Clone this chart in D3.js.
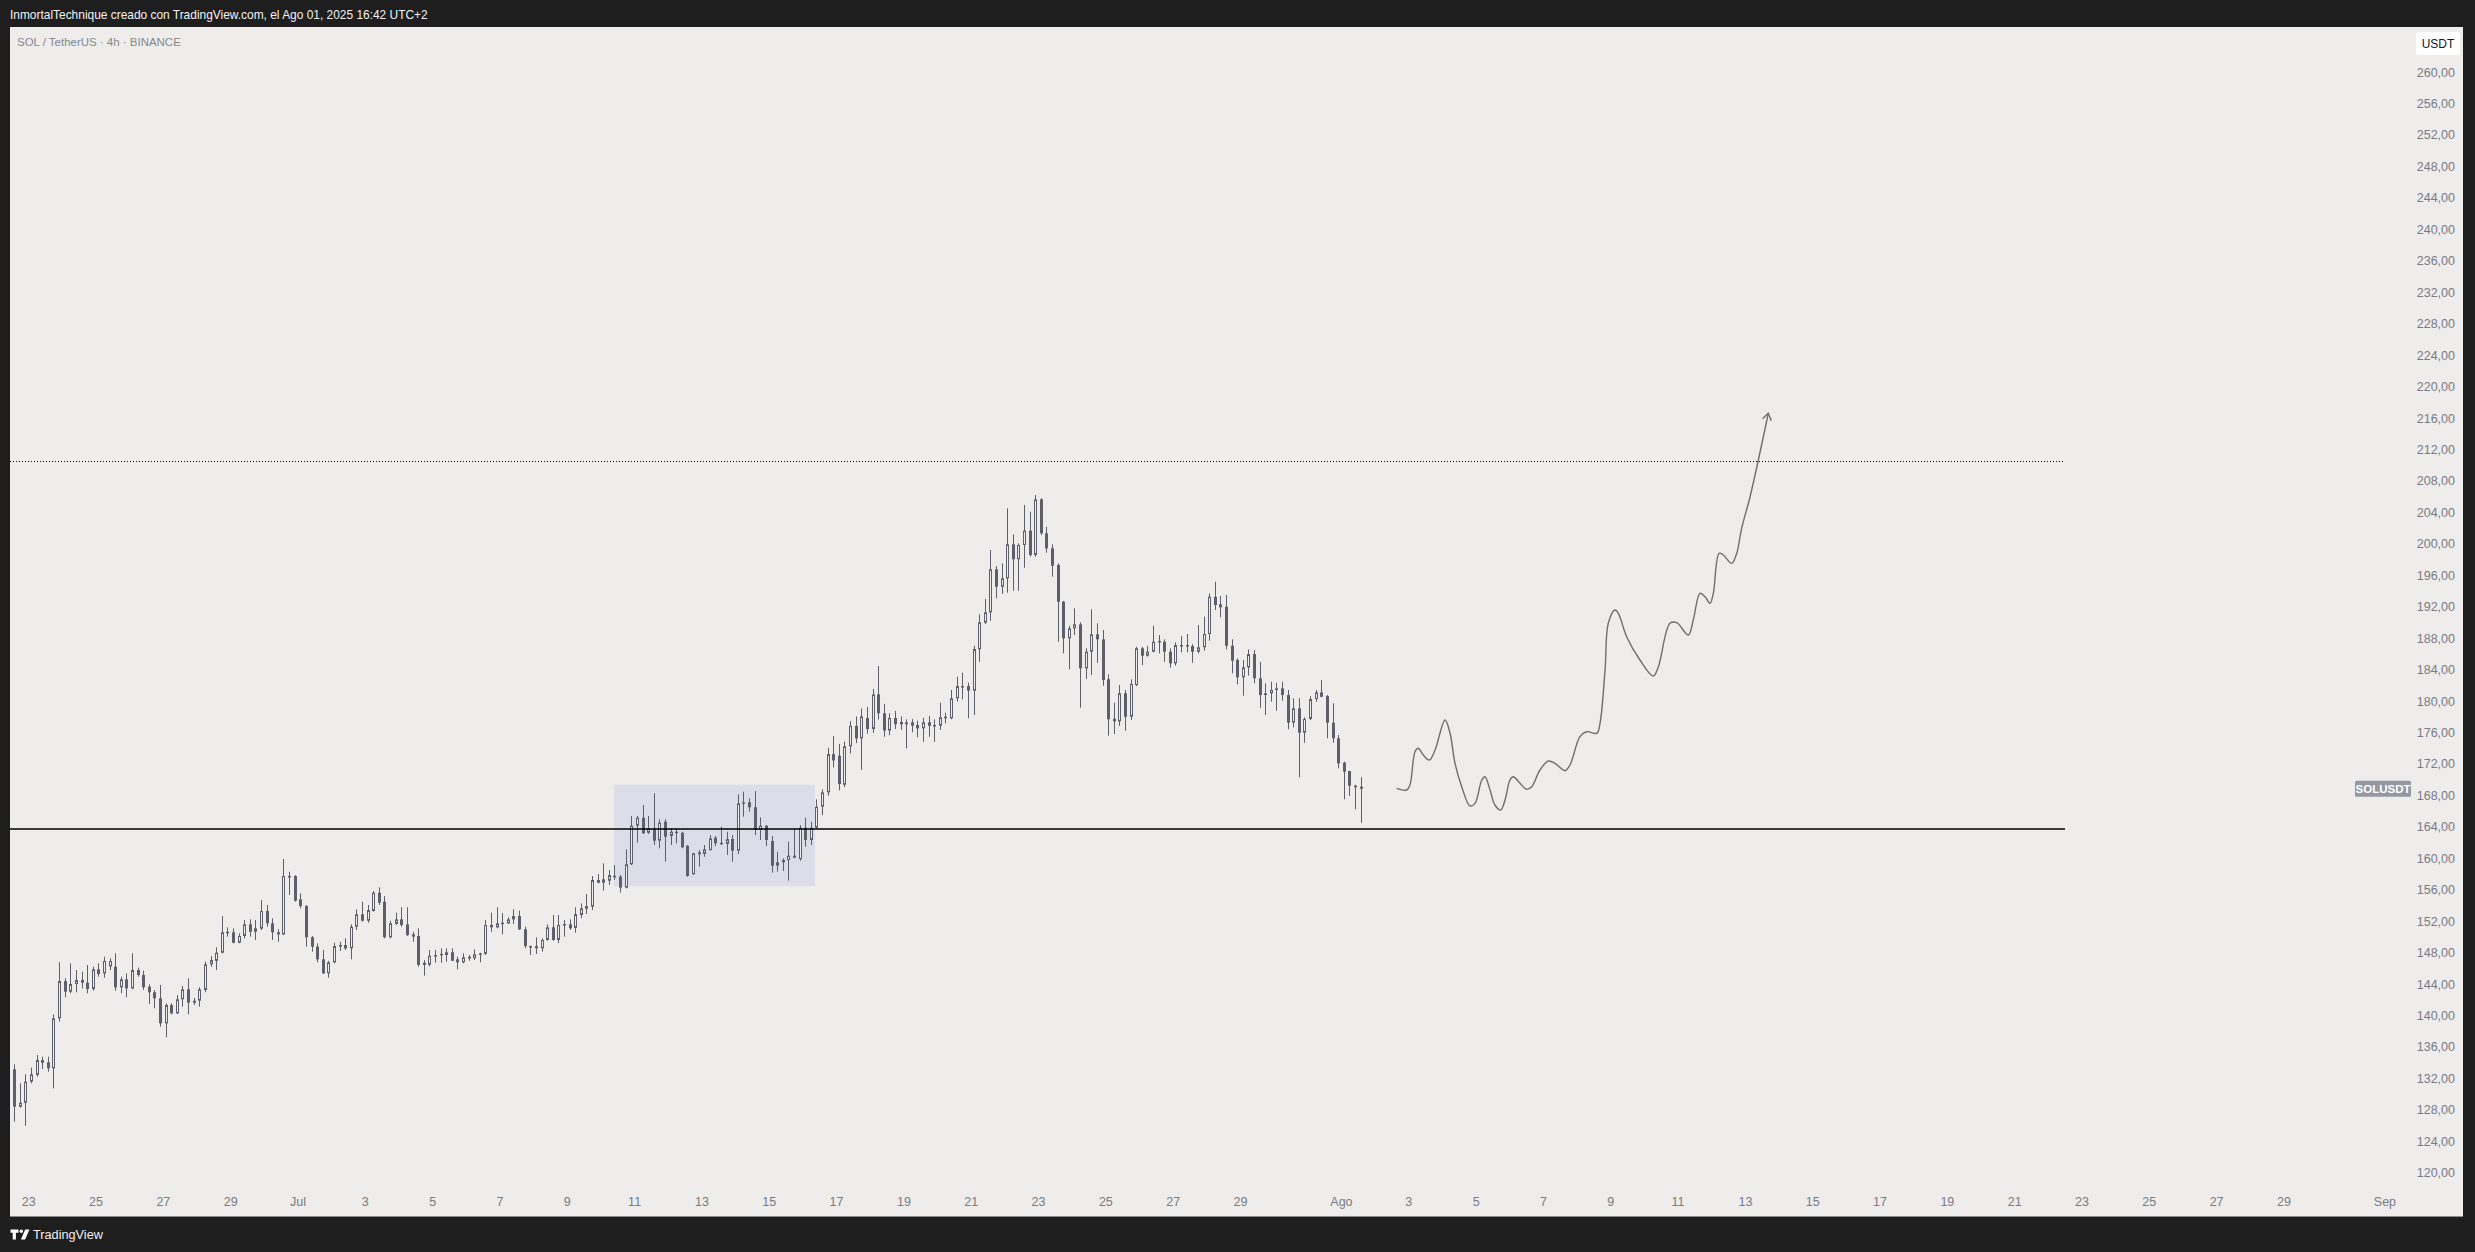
<!DOCTYPE html>
<html><head><meta charset="utf-8">
<script src="https://cdn.jsdelivr.net/npm/d3@7"></script>
<style>body{margin:0;background:#1e1e1e;overflow:hidden}svg{display:block}</style>
</head><body>
<svg id="c" width="2475" height="1252"></svg>
<script>
// ---------------- DATA ----------------
const headerText = "InmortalTechnique creado con TradingView.com, el Ago 01, 2025 16:42 UTC+2";
const titleText = "SOL / TetherUS · 4h · BINANCE";
const symbolLabel = "SOLUSDT";
const currencyLabel = "USDT";
const firstCandle = "2025-06-22T14:00:00Z";   // 4h candles, UTC+2 shown as local
const candleHours = 4;
// [open, high, low, close]
const candles = [
[133.11,133.75,126.45,128.35],[128.35,131.33,128.23,128.86],[128.86,132.48,125.94,131.53],[131.53,133.32,131.33,132.48],
[132.40,134.93,132.17,134.29],[134.29,134.71,133.15,133.95],[134.00,134.71,132.81,133.24],[133.24,140.11,130.69,139.60],
[139.60,146.72,139.17,144.34],[144.34,144.69,142.27,142.98],[142.98,146.59,142.78,143.96],[143.96,145.74,142.91,144.47],
[144.47,145.53,143.41,144.13],[144.13,146.38,142.78,143.33],[143.33,146.16,143.11,145.83],[145.83,146.59,144.89,145.23],
[145.32,147.43,144.76,146.89],[146.20,147.23,145.74,146.89],[146.16,147.87,143.11,143.54],[143.54,144.89,142.78,144.56],
[144.56,145.32,142.27,143.41],[143.41,147.87,143.29,145.74],[145.74,146.06,144.89,145.11],[145.11,145.65,143.20,143.54],
[143.62,143.92,141.42,142.91],[142.91,143.20,140.87,142.14],[142.14,143.83,138.53,138.96],[138.96,141.51,137.18,141.29],
[141.29,141.51,140.11,140.23],[140.23,142.56,140.14,142.02],[142.02,143.71,141.07,143.29],[143.29,144.69,140.11,141.58],
[141.58,142.18,141.29,141.84],[141.84,143.54,141.07,143.29],[143.20,146.80,142.91,146.47],[146.47,147.52,146.16,147.01],
[146.90,148.63,145.74,147.94],[147.94,152.61,147.87,150.54],[150.41,151.17,149.98,150.61],[150.54,151.04,149.14,149.21],
[149.21,150.41,149.14,150.07],[150.07,152.10,149.77,151.55],[151.55,152.19,149.98,150.61],[150.61,152.10,149.56,151.05],
[151.00,154.64,150.83,153.25],[153.25,154.01,151.25,151.68],[151.68,152.32,149.56,150.54],[150.54,150.92,149.34,150.28],
[150.28,159.86,150.19,157.70],[157.53,158.24,155.28,157.70],[157.70,157.82,154.43,154.56],[154.73,155.50,153.59,153.88],
[153.88,154.01,148.71,149.90],[149.90,150.07,148.07,148.71],[148.71,149.14,146.72,147.10],[147.10,148.29,145.23,145.32],
[145.32,146.92,144.76,146.72],[146.72,149.21,146.59,148.79],[148.71,149.34,148.16,148.92],[148.92,149.77,148.29,148.50],
[148.50,151.55,147.10,151.25],[151.25,153.46,150.83,152.83],[152.83,154.43,151.89,152.01],[152.01,154.01,151.76,153.37],
[153.25,155.79,153.16,155.57],[155.57,156.26,154.01,154.30],[154.43,155.15,149.77,149.90],[149.90,152.00,149.77,151.68],
[151.60,153.03,151.47,152.19],[152.19,153.72,151.25,151.47],[151.55,153.72,150.07,150.19],[150.28,150.61,149.34,149.98],
[150.07,151.04,146.16,146.38],[146.67,147.01,145.02,146.38],[146.40,148.29,146.20,147.56],[147.45,148.29,146.67,147.65],
[147.65,148.50,146.67,147.80],[147.65,148.50,146.80,148.00],[148.00,148.50,146.88,146.92],[147.10,147.43,145.83,146.72],
[146.72,147.87,146.59,147.36],[147.20,147.65,146.92,147.43],[147.23,148.37,147.01,147.74],[147.74,147.94,146.72,147.87],
[147.80,152.10,147.65,151.47],[151.47,153.03,150.61,151.17],[151.17,153.72,151.05,151.68],[151.60,152.95,150.28,151.76],
[151.68,152.45,151.60,152.19],[152.19,153.46,151.60,152.61],[152.61,153.29,150.83,150.92],[150.92,151.25,148.50,148.79],
[148.79,148.85,147.65,148.71],[148.50,149.90,147.78,148.79],[148.50,149.77,148.07,149.56],[149.56,151.55,149.47,151.17],
[151.17,152.74,149.47,149.56],[149.56,152.74,149.18,151.47],[151.47,152.10,149.98,151.60],[151.55,152.19,150.83,151.05],
[151.10,153.72,150.48,152.86],[152.74,154.22,152.32,153.59],[153.54,155.41,152.86,153.88],[153.80,157.70,153.37,157.19],
[156.85,157.95,156.77,157.19],[156.85,159.31,155.83,157.28],[157.10,158.46,156.55,157.82],[157.74,159.10,157.19,157.53],
[157.61,157.82,155.57,156.21],[156.21,161.09,156.13,159.19],[159.19,165.33,159.10,164.10],[164.10,165.33,161.93,165.11],
[165.11,166.73,163.04,163.13],[163.20,165.33,163.04,163.76],[163.76,168.22,161.64,162.19],[162.19,164.91,161.22,164.48],
[164.60,164.91,159.52,162.70],[162.79,163.76,161.64,163.33],[163.13,163.76,161.86,163.33],[163.20,163.33,161.22,161.35],
[161.55,161.64,157.61,157.70],[157.95,160.66,157.82,160.58],[160.46,161.00,158.88,160.71],[160.50,161.64,160.15,161.09],
[161.00,162.91,160.92,162.49],[162.57,162.79,161.51,161.86],[161.93,163.97,161.64,161.77],[161.77,163.33,160.37,162.40],
[162.40,162.91,159.52,160.92],[160.92,168.09,160.50,166.94],[166.94,168.42,165.24,167.07],[167.07,167.58,165.88,166.44],
[166.44,168.51,162.91,163.55],[163.55,165.16,162.28,164.10],[164.10,164.18,161.51,162.28],[162.15,162.79,158.12,159.01],
[159.01,160.79,158.24,159.44],[159.44,159.95,158.33,159.73],[159.73,162.06,157.10,160.28],[160.28,163.64,159.95,160.03],
[159.86,164.18,159.64,163.84],[163.84,165.11,161.42,162.28],[162.28,164.60,161.64,163.84],[163.84,167.45,163.76,166.51],
[166.51,168.72,165.46,168.34],[168.34,174.00,167.90,173.20],[173.20,175.50,171.50,172.40],[173.00,174.50,168.60,169.40],
[169.30,174.80,169.00,174.20],[174.20,177.40,173.30,176.80],[176.80,178.00,174.60,175.20],[175.20,179.00,171.20,178.00],
[177.80,179.20,175.80,176.40],[176.40,181.50,175.90,180.80],[180.80,184.40,177.60,178.40],[178.40,179.60,175.40,176.20],
[176.20,178.40,175.60,177.80],[177.80,178.70,176.40,177.00],[177.00,178.00,176.30,177.30],[177.25,177.63,173.94,176.99],
[177.25,177.67,175.97,176.81],[176.90,177.45,175.34,176.48],[176.48,177.83,174.78,177.25],[177.25,178.05,175.42,176.81],
[176.81,177.63,174.78,176.90],[176.81,179.74,176.27,177.88],[177.88,178.47,177.12,177.96],[177.76,181.36,177.63,180.30],
[180.30,183.05,179.87,181.86],[181.77,183.56,180.17,181.86],[181.86,182.28,177.76,181.27],[181.27,186.99,178.18,186.57],
[186.53,190.98,184.95,189.97],[189.92,192.93,189.75,191.24],[191.24,199.16,190.17,196.71],[196.71,197.13,193.02,194.49],
[194.49,197.47,193.57,195.56],[195.56,204.47,193.73,199.89],[199.89,201.16,193.98,197.98],[197.98,200.01,193.98,199.80],
[199.80,204.89,196.91,201.62],[201.62,204.03,198.31,198.53],[198.53,206.16,198.31,205.61],[205.61,205.74,201.07,201.29],
[201.29,202.12,198.82,199.38],[199.38,199.89,195.77,197.16],[197.25,197.47,187.50,192.59],[192.59,192.68,186.02,187.93],
[187.93,189.53,183.99,189.20],[189.20,191.75,188.35,189.71],[189.71,189.97,179.10,184.11],[184.11,186.66,182.75,186.23],
[186.23,191.62,183.26,188.44],[188.44,189.84,184.83,187.80],[187.80,188.99,181.90,182.63],[182.72,183.35,175.54,177.63],
[177.70,179.74,175.76,177.37],[177.37,181.99,176.78,180.94],[180.94,181.36,176.18,177.96],[177.96,182.72,177.54,182.12],
[181.99,186.86,181.86,186.66],[186.66,186.86,184.53,185.72],[185.72,186.99,185.59,186.23],[186.23,189.53,186.15,187.50],
[187.42,188.35,186.02,187.59],[187.50,187.80,184.95,186.23],[186.23,186.66,184.19,184.75],[184.75,187.42,184.45,187.08],
[186.99,188.22,186.15,187.08],[187.08,188.48,186.15,186.95],[186.95,187.20,184.83,186.23],[186.23,189.62,186.02,186.79],
[186.79,190.68,186.35,188.48],[188.48,193.65,187.63,193.22],[193.22,195.13,191.53,192.17],[192.26,193.31,190.60,191.87],
[191.95,193.44,186.53,186.99],[186.99,187.80,183.48,185.08],[185.17,185.39,182.08,182.97],[182.97,185.17,180.63,184.24],
[184.24,186.53,183.17,185.93],[185.93,186.44,182.21,182.84],[182.84,184.95,179.10,180.72],[180.72,182.21,178.18,180.94],
[180.94,182.41,179.87,181.36],[181.36,182.28,178.72,181.57],[181.57,182.41,179.99,180.72],[180.72,181.36,176.36,177.20],
[177.20,180.30,176.61,179.03],[179.03,180.30,170.25,175.92],[175.92,177.88,174.65,177.67],[177.67,180.59,177.54,180.21],
[180.21,181.36,179.87,181.06],[181.06,182.63,180.43,180.50],[180.59,180.72,175.21,177.20],[177.20,179.66,174.65,175.21],
[175.21,175.63,171.40,172.03],[172.11,172.24,167.45,170.96],[171.05,171.09,167.87,169.18],[169.18,169.30,166.18,169.06],
[169.06,170.25,164.48,168.80]
];
// hand-drawn projection: hours after 2025-08-01 00:00, and price
const projHours = [39.7,46.9,49.2,52.8,55.1,58.7,63.0,67.1,74.2,77.8,81.3,86.1,92.0,95.6,100.4,102.7,106.3,109.8,113.9,117.0,120.5,122.9,127.7,132.4,136.0,141.9,147.8,152.6,159.7,163.3,170.4,175.2,182.4,184.7,188.3,190.6,195.4,197.8,203.7,213.2,222.7,226.3,234.6,239.4,247.7,251.2,256.0,259.6,263.1,265.5,269.6,272.6,278.6,282.2,285.7,291.7,297.6,304.7];
const projPrices = [168.85,168.64,169.27,173.51,173.94,173.09,172.45,173.72,177.54,175.85,172.03,169.06,166.60,166.94,169.91,170.33,168.64,166.73,166.09,167.36,169.91,170.33,169.49,168.72,169.06,171.18,172.32,172.03,171.09,171.82,175.42,176.05,175.85,177.12,183.90,189.84,191.53,191.11,188.13,185.17,183.14,184.32,189.84,189.92,188.35,190.26,193.65,193.22,192.38,193.65,198.74,198.53,197.47,198.74,201.92,205.94,210.61,216.55];
const supportPrice = 163.67;
const targetPrice = 210.5;
const levelsEnd = "2025-08-22T12:15:00Z";
const rangeBox = {start:"2025-07-10T09:40:00Z", end:"2025-07-16T09:00:00Z", top:169.3, bottom:156.4};
const priceTicks = [120,124,128,132,136,140,144,148,152,156,160,164,168,172,176,180,184,188,192,196,200,204,208,212,216,220,224,228,232,236,240,244,248,252,256,260];
const dateTicks = ["2025-06-23","2025-06-25","2025-06-27","2025-06-29","2025-07-01","2025-07-03","2025-07-05","2025-07-07","2025-07-09","2025-07-11","2025-07-13","2025-07-15","2025-07-17","2025-07-19","2025-07-21","2025-07-23","2025-07-25","2025-07-27","2025-07-29","2025-08-01","2025-08-03","2025-08-05","2025-08-07","2025-08-09","2025-08-11","2025-08-13","2025-08-15","2025-08-17","2025-08-19","2025-08-21","2025-08-23","2025-08-25","2025-08-27","2025-08-29","2025-09-01"];
const monthNames = ["Ene","Feb","Mar","Abr","May","Jun","Jul","Ago","Sep","Oct","Nov","Dic"];

// ---------------- LAYOUT ----------------
const W = 2475, H = 1252;
const panel = {x0:10, y0:27, x1:2463, y1:1216};
const plotRight = 2413;
const BG = "#eeedeb", CANDLE = "#5d606b", AXIS_TXT = "#787b85";
const FONT = "'Liberation Sans', Arial, sans-serif";

const svg = d3.select("#c");
svg.append("rect").attr("width",W).attr("height",H).attr("fill","#1e1e1e");
svg.append("rect").attr("x",panel.x0).attr("y",panel.y0).attr("width",panel.x1-panel.x0).attr("height",panel.y1-panel.y0)
   .attr("fill",BG);
svg.append("line").attr("x1",panel.x0).attr("x2",panel.x1).attr("y1",panel.y1+0.5).attr("y2",panel.y1+0.5)
   .attr("stroke","#8a8a8a").attr("stroke-width",1);

const x = d3.scaleUtc()
  .domain([new Date(Date.UTC(2025,6,1)), new Date(Date.UTC(2025,8,1))])
  .range([297.5, 297.5 + 62*33.66]);
const y = d3.scaleLinear().domain([120,260]).range([1172.4, 71.7]);

svg.append("clipPath").attr("id","plotclip").append("rect")
  .attr("x",panel.x0).attr("y",panel.y0).attr("width",plotRight-panel.x0).attr("height",1185-panel.y0);
const plot = svg.append("g").attr("clip-path","url(#plotclip)");

// range box
plot.append("rect")
  .attr("x", x(new Date(rangeBox.start))).attr("width", x(new Date(rangeBox.end)) - x(new Date(rangeBox.start)))
  .attr("y", y(rangeBox.top)).attr("height", y(rangeBox.bottom) - y(rangeBox.top))
  .attr("fill","#dcdde9");

// candles
const t0 = new Date(firstCandle).getTime();
const cdata = candles.map((c,i)=>({t:new Date(t0 + i*candleHours*3600e3), o:c[0], h:c[1], l:c[2], c:c[3]}));
const cg = plot.append("g");
cdata.forEach(d=>{
  const cx = Math.round(x(d.t));
  cg.append("line").attr("x1",cx+0.5).attr("x2",cx+0.5).attr("y1",y(d.h)).attr("y2",y(d.l))
    .attr("stroke",CANDLE).attr("stroke-width",1);
  const top = y(Math.max(d.o,d.c)), bot = y(Math.min(d.o,d.c));
  const hgt = Math.max(bot-top, 1.5);
  if (d.c >= d.o) {
    cg.append("rect").attr("x",cx-0.5).attr("y",top+0.5).attr("width",2).attr("height",Math.max(hgt-1,0.5))
      .attr("fill",BG).attr("stroke",CANDLE).attr("stroke-width",1);
  } else {
    cg.append("rect").attr("x",cx-1).attr("y",top).attr("width",3).attr("height",hgt).attr("fill",CANDLE);
  }
});

// horizontal levels
const lvEnd = x(new Date(levelsEnd));
plot.append("line").attr("x1",panel.x0).attr("x2",lvEnd).attr("y1",y(supportPrice)).attr("y2",y(supportPrice))
  .attr("stroke","#000").attr("stroke-width",1.5);
plot.append("line").attr("x1",panel.x0).attr("x2",lvEnd).attr("y1",Math.round(y(targetPrice))+0.5).attr("y2",Math.round(y(targetPrice))+0.5)
  .attr("stroke","#000").attr("stroke-width",1).attr("stroke-dasharray","1,2");

// projection path
const aug1 = Date.UTC(2025,7,1);
const pts = projHours.map((h,i)=>[x(new Date(aug1 + h*3600e3)), y(projPrices[i])]);
plot.append("path").attr("d", d3.line().curve(d3.curveCatmullRom.alpha(0.5))(pts))
  .attr("fill","none").attr("stroke","#6e6e6e").attr("stroke-width",1.4).attr("stroke-linejoin","round");
// arrow head
{
  const [ex,ey] = pts[pts.length-1], [px,py] = pts[pts.length-3];
  const ang = Math.atan2(ey-py, ex-px), L = 8, spread = 0.6;
  const a1 = [ex - L*Math.cos(ang-spread), ey - L*Math.sin(ang-spread)];
  const a2 = [ex - L*Math.cos(ang+spread), ey - L*Math.sin(ang+spread)];
  plot.append("path").attr("d",`M${a1[0]},${a1[1]}L${ex},${ey}L${a2[0]},${a2[1]}`)
    .attr("fill","none").attr("stroke","#6e6e6e").attr("stroke-width",1.4);
}

// price axis
const fmt = d3.formatLocale({decimal:",",thousands:".",grouping:[3],currency:["","€"]}).format(".2f");
const ya = svg.append("g").attr("transform","translate(2455,0)")
  .call(d3.axisLeft(y).tickValues(priceTicks).tickFormat(fmt).tickSize(0).tickPadding(0));
ya.select(".domain").remove();
ya.selectAll("text").attr("fill",AXIS_TXT).attr("font-family",FONT).attr("font-size",12.5).attr("dy","0.35em");

// date axis
const xa = svg.append("g").attr("transform","translate(0,1202)")
  .call(d3.axisBottom(x).tickValues(dateTicks.map(s=>new Date(s+"T00:00:00Z")))
    .tickFormat(d => d.getUTCDate()===1 ? monthNames[d.getUTCMonth()] : String(d.getUTCDate()))
    .tickSize(0).tickPadding(0));
xa.select(".domain").remove();
xa.selectAll("text").attr("fill",AXIS_TXT).attr("font-family",FONT).attr("font-size",12.5).attr("dy","0.35em");

// last price label
const lastC = cdata[cdata.length-1].c;
const ly = y(lastC);
svg.append("rect").attr("x",2355).attr("y",ly-8).attr("width",56).attr("height",16).attr("rx",1.5).attr("fill","#9598a1");
svg.append("text").attr("x",2383).attr("y",ly).attr("dy","0.36em").attr("text-anchor","middle")
  .attr("fill","#fff").attr("font-family",FONT).attr("font-size",11.5).attr("font-weight","bold").text(symbolLabel);

// currency box
svg.append("rect").attr("x",2416).attr("y",32).attr("width",44).attr("height",23).attr("rx",3).attr("fill","#ffffff");
svg.append("text").attr("x",2438).attr("y",43.5).attr("dy","0.36em").attr("text-anchor","middle")
  .attr("fill","#131722").attr("font-family",FONT).attr("font-size",12).text(currencyLabel);

// texts fitted to reference widths
function fitText(sel, target, base){
  const w = sel.node().getComputedTextLength();
  if (w>0) sel.attr("font-size", base*target/w);
}
const hdr = svg.append("text").attr("x",10).attr("y",15).attr("dy","0.35em").attr("fill","#f2f2f2")
  .attr("font-family",FONT).attr("font-size",12).text(headerText);
fitText(hdr, 418, 12);
const ttl = svg.append("text").attr("x",17).attr("y",42).attr("dy","0.35em").attr("fill","#85888f")
  .attr("font-family",FONT).attr("font-size",12).text(titleText);
fitText(ttl, 164, 12);

// footer logo
const lg = svg.append("g").attr("fill","#ffffff");
lg.append("path").attr("d","M10.5,1229.5h8v3.2h-2.6v6.8h-3.2v-6.8h-2.2z");
lg.append("circle").attr("cx",21.3).attr("cy",1231.2).attr("r",1.7);
lg.append("path").attr("d","M25.2,1229.5h4.3l-4.4,10h-4.2z");
const ft = svg.append("text").attr("x",33).attr("y",1235).attr("dy","0.35em").attr("fill","#f0f0f0")
  .attr("font-family",FONT).attr("font-size",13).text("TradingView");
fitText(ft, 70, 13);
</script>
</body></html>
